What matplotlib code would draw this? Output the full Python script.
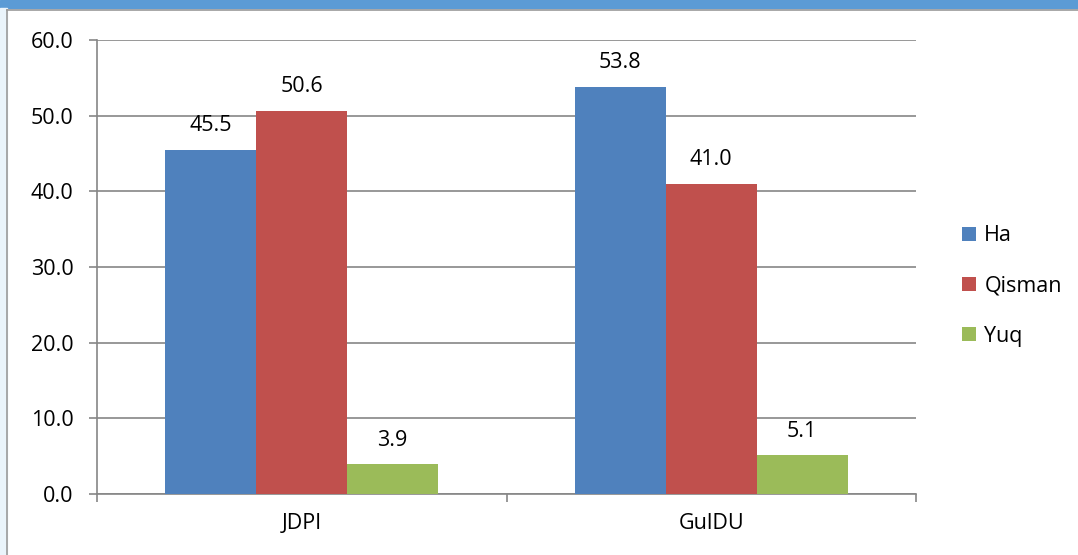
import matplotlib
matplotlib.use("Agg")
import matplotlib.pyplot as plt
import numpy as np
from matplotlib.patches import Rectangle
from matplotlib.lines import Line2D

categories = ["JDPI", "GulDU"]
series_names = ["Ha", "Qisman", "Yuq"]
ha = [45.5, 53.8]
qisman = [50.6, 41.0]
yuq = [3.9, 5.1]
yticks = [0, 10, 20, 30, 40, 50, 60]
colors = ["#4f81bd", "#c0504d", "#9bbb59"]

plt.rcParams['font.family'] = ['Open Sans', 'DejaVu Sans']
FS = 15.5

W, H = 1078, 555
fig = plt.figure(figsize=(W/100, H/100), dpi=100)

# decorations: top blue band, left light strip, border lines
fig.patches.append(Rectangle((0, 1-8/H), 1, 8/H, transform=fig.transFigure, color="#5b9bd5", zorder=0))
fig.patches.append(Rectangle((0, 0), 7/W, 1-8/H, transform=fig.transFigure, color="#eaf4fb", zorder=0))
fig.lines.append(Line2D([7/W, 7/W], [0, 1-10/H], transform=fig.transFigure, color="#9a9a9a", lw=1.2))
fig.lines.append(Line2D([7/W, 1], [1-10/H, 1-10/H], transform=fig.transFigure, color="#9a9a9a", lw=1.2))

ax = fig.add_axes([97/W, 1-494/H, (916-97)/W, (494-40)/H])
x = np.arange(len(categories))
bw = 1/(3+1.5)
data = [ha, qisman, yuq]
for i, (vals, c, name) in enumerate(zip(data, colors, series_names)):
    pos = x + (i-1)*bw
    ax.bar(pos, vals, width=bw, color=c, label=name, zorder=3)
    for p, v in zip(pos, vals):
        ax.annotate(f"{v:.1f}", (p, v), xytext=(0, 17.5), textcoords="offset points",
                    ha="center", va="center", fontsize=FS, color="#000000")

ax.set_xlim(-0.5, len(categories)-0.5)
ax.set_ylim(0, 60)
ax.set_yticks(yticks)
ax.set_yticklabels([f"{t:.1f}" for t in yticks], fontsize=FS)
ax.yaxis.grid(True, color="#868686", lw=1.2, zorder=0)
ax.set_axisbelow(True)
ax.set_xticks([-0.5, 0.5, 1.5])
ax.set_xticklabels([])
ax.set_xticks(x, minor=True)
ax.set_xticklabels(categories, minor=True, fontsize=FS)
ax.tick_params(axis='x', which='minor', length=0, pad=14)
ax.tick_params(axis='x', which='major', length=6, color="#868686", width=1.2)
ax.tick_params(axis='y', length=6, color="#868686", width=1.2, pad=11)
for s in ["top", "right"]:
    ax.spines[s].set_visible(False)
for s in ["left", "bottom"]:
    ax.spines[s].set_color("#868686")
    ax.spines[s].set_linewidth(1.2)

leg = ax.legend(loc="center left", bbox_to_anchor=(951/W, 1-286/H), bbox_transform=fig.transFigure,
                frameon=False, fontsize=FS, handlelength=0.65, handleheight=0.65,
                labelspacing=1.35, handletextpad=0.4, borderpad=0)

fig.savefig("out.png", dpi=100)
